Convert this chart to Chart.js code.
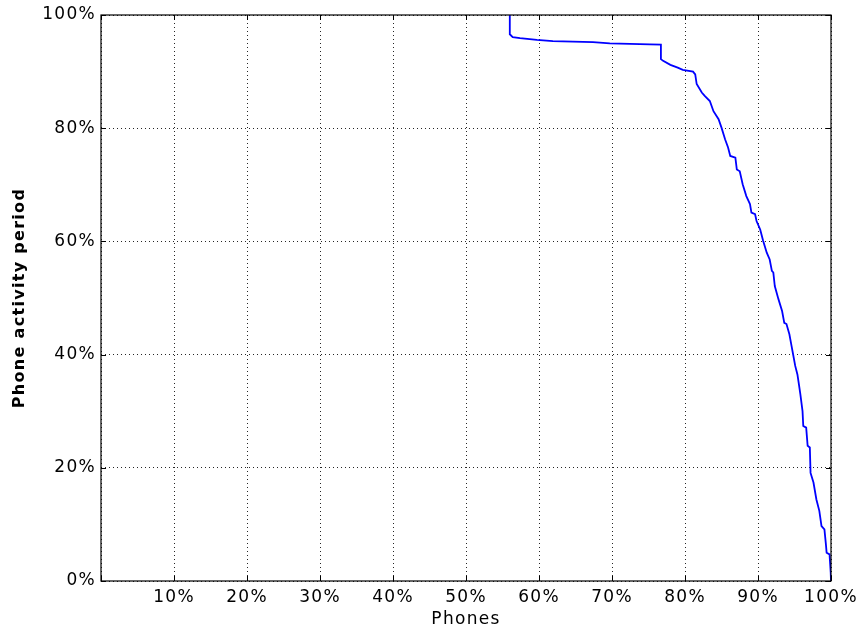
<!DOCTYPE html>
<html>
<head>
<meta charset="utf-8">
<script src="https://cdn.jsdelivr.net/npm/chart.js@4/dist/chart.umd.min.js"></script>
<style>
  html, body { margin: 0; padding: 0; background: #fff; }
  #wrap { width: 859px; height: 630px; }
</style>
</head>
<body>
<div id="wrap"><canvas id="chart1"></canvas></div>
<script>
// share of phones (%), sorted
const phones = [56.0, 56.0, 56.4, 57.4, 59.7, 61.9, 67.4, 69.7, 75.2, 76.7, 76.7, 77.0, 78.0, 79.0, 79.7, 81.1,
  81.4, 81.6, 82.3, 82.7, 83.4, 83.9, 84.6, 85.0, 85.5, 85.9, 86.2, 86.9, 87.1, 87.5, 87.9, 88.4, 88.9, 89.1,
  89.6, 89.8, 90.3, 90.7, 91.2, 91.6, 91.9, 92.1, 92.3, 92.8, 93.3, 93.6, 93.9, 94.3, 94.6, 94.8, 95.1, 95.4,
  95.6, 95.8, 96.1, 96.2, 96.6, 96.8, 97.1, 97.2, 97.6, 98.0, 98.4, 98.7, 99.1, 99.3, 99.4, 99.8, 99.96, 100];
// phone activity period (%)
const activity = [100, 96.6, 96.1, 95.9, 95.6, 95.4, 95.2, 95.0, 94.8, 94.75, 92.2, 91.9, 91.2, 90.7, 90.3, 90.0,
  89.5, 87.8, 86.3, 85.7, 84.8, 83.0, 81.6, 80.1, 78.0, 76.6, 75.1, 74.8, 72.7, 72.4, 70.1, 68.0, 66.6, 65.1,
  64.8, 63.6, 62.1, 60.1, 58.0, 56.8, 54.8, 54.5, 52.1, 49.8, 47.7, 45.6, 45.4, 43.6, 41.5, 40.1, 38.0, 36.5,
  34.8, 33.0, 30.0, 27.4, 27.1, 23.9, 23.6, 19.1, 17.4, 14.4, 12.4, 9.7, 9.1, 6.5, 5.0, 4.7, 1.5, 0];

const xTicks = [0, 10, 20, 30, 40, 50, 60, 70, 80, 90, 100];
const yTicks = [0, 20, 40, 60, 80, 100];

const points = phones.map((p, i) => ({ x: p, y: activity[i] }));
const fontFamily = '"DejaVu Sans", sans-serif';

// matplotlib text is a bit wider than canvas text
const spacing = {
  id: 'spacing',
  beforeLayout(chart) { chart.ctx.letterSpacing = '1.3px'; },
  beforeDraw(chart) { chart.ctx.letterSpacing = '1.3px'; }
};

// frame + inward tick marks, like the original plot
const frame = {
  id: 'frame',
  afterDraw(chart) {
    const { ctx, chartArea: a, scales } = chart;
    ctx.save();
    ctx.strokeStyle = '#000';
    ctx.lineWidth = 1;
    xTicks.forEach(v => {
      const px = Math.round(scales.x.getPixelForValue(v)) + 0.5;
      ctx.beginPath();
      ctx.moveTo(px, a.bottom); ctx.lineTo(px, a.bottom - 5);
      ctx.moveTo(px, a.top); ctx.lineTo(px, a.top + 5);
      ctx.stroke();
    });
    yTicks.forEach(v => {
      const py = Math.round(scales.y.getPixelForValue(v)) + 0.5;
      ctx.beginPath();
      ctx.moveTo(a.left, py); ctx.lineTo(a.left + 5, py);
      ctx.moveTo(a.right, py); ctx.lineTo(a.right - 5, py);
      ctx.stroke();
    });
    ctx.lineWidth = 1.2;
    ctx.strokeRect(a.left, a.top, a.right - a.left, a.bottom - a.top);
    ctx.restore();
  }
};

new Chart(document.getElementById('chart1'), {
  type: 'line',
  data: {
    datasets: [{
      data: points,
      borderColor: '#0000ff',
      borderWidth: 1.8,
      pointRadius: 0,
      tension: 0,
      fill: false
    }]
  },
  plugins: [spacing, frame],
  options: {
    responsive: true,
    maintainAspectRatio: false,
    animation: false,
    layout: { padding: { top: 15, right: 28, left: 10, bottom: 0 } },
    plugins: { legend: { display: false }, tooltip: { enabled: false } },
    scales: {
      x: {
        type: 'linear',
        min: 0,
        max: 100,
        afterBuildTicks: s => { s.ticks = xTicks.map(v => ({ value: v })); },
        afterFit: s => { s.height = 49; s.paddingLeft = 0; s.paddingRight = 0; },
        ticks: {
          color: '#000',
          padding: 6,
          font: { family: fontFamily, size: 17 },
          callback: v => v === 0 ? '' : v + '%'
        },
        grid: { color: 'rgba(0,0,0,0.85)', drawTicks: false, lineWidth: 1 },
        border: { display: false, dash: [1, 3] },
        title: {
          display: true,
          text: 'Phones',
          color: '#000',
          padding: { top: 0, bottom: 0 },
          font: { family: fontFamily, size: 17 }
        }
      },
      y: {
        min: 0,
        max: 100,
        afterBuildTicks: s => { s.ticks = yTicks.map(v => ({ value: v })); },
        afterFit: s => { s.width = 91; s.paddingTop = 0; s.paddingBottom = 0; },
        ticks: {
          color: '#000',
          padding: 5,
          font: { family: fontFamily, size: 17 },
          callback: v => v + '%'
        },
        grid: { color: 'rgba(0,0,0,0.85)', drawTicks: false, lineWidth: 1 },
        border: { display: false, dash: [1, 3] },
        title: {
          display: true,
          text: 'Phone activity period',
          color: '#000',
          padding: { top: 0, bottom: 0 },
          font: { family: fontFamily, size: 16, weight: 'bold' }
        }
      }
    }
  }
});
</script>
</body>
</html>
